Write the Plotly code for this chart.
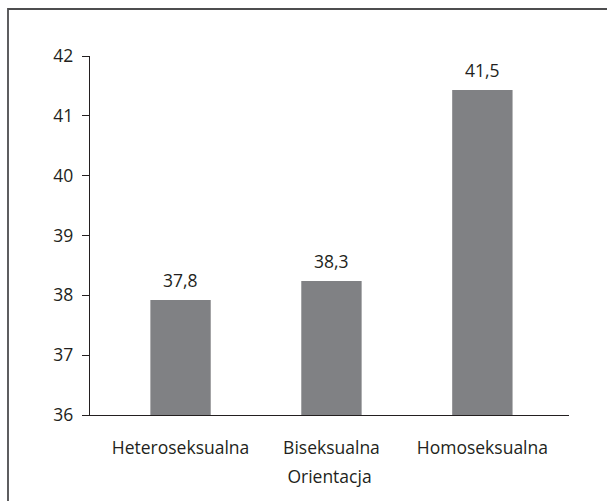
import plotly.graph_objects as go

categories = ["Heteroseksualna", "Biseksualna", "Homoseksualna"]
bar_values = [37.92, 38.24, 41.43]
value_labels = ["37,8", "38,3", "41,5"]
y_ticks = [36, 37, 38, 39, 40, 41, 42]
x_title = "Orientacja"

FONT = "Open Sans, Noto Sans, sans-serif"
TXT = "#231f20"
FS = 17.5

fig = go.Figure()
fig.add_trace(go.Bar(
    x=[0, 1, 2], y=[v - 36 for v in bar_values], base=36,
    width=0.40, marker=dict(color="#808184", line=dict(width=0)),
    hoverinfo="skip",
))
for i, (v, lab) in enumerate(zip(bar_values, value_labels)):
    fig.add_annotation(x=i, y=v, text=lab, showarrow=False, yanchor="middle",
                       yshift=20, font=dict(family=FONT, size=FS, color=TXT))

fig.update_layout(
    width=607, height=501,
    margin=dict(l=90, r=38, t=56, b=86),
    paper_bgcolor="white", plot_bgcolor="white",
    showlegend=False,
    font=dict(family=FONT, size=FS, color=TXT),
    xaxis=dict(
        range=[-0.6, 2.574], tickmode="array", tickvals=[0, 1, 2], ticktext=categories,
        showline=True, linecolor="#231f20", linewidth=1.3, ticks="", showgrid=False,
        zeroline=False, ticklabelstandoff=17, automargin=False,
        tickfont=dict(family=FONT, size=FS, color=TXT),
        title=dict(text=x_title, standoff=12, font=dict(family=FONT, size=FS, color=TXT)),
    ),
    yaxis=dict(
        range=[36, 42], tickmode="array", tickvals=y_ticks, ticktext=[str(t) for t in y_ticks],
        showline=True, linecolor="#231f20", linewidth=1.3, ticks="outside", ticklen=7,
        tickcolor="#231f20", tickwidth=1.3, showgrid=False, zeroline=False,
        ticklabelstandoff=5, automargin=False,
        tickfont=dict(family=FONT, size=FS, color=TXT),
    ),
    shapes=[dict(type="rect", xref="paper", yref="paper",
                 x0=(8 - 90) / 479, x1=1.3, y0=-0.4, y1=(415 - 9) / 359,
                 line=dict(color="#4d4d4f", width=1.8), layer="below")],
)

fig.write_html("out.html", config={"displayModeBar": False},
               post_script="document.body.style.margin='0';document.body.style.padding='0';")
